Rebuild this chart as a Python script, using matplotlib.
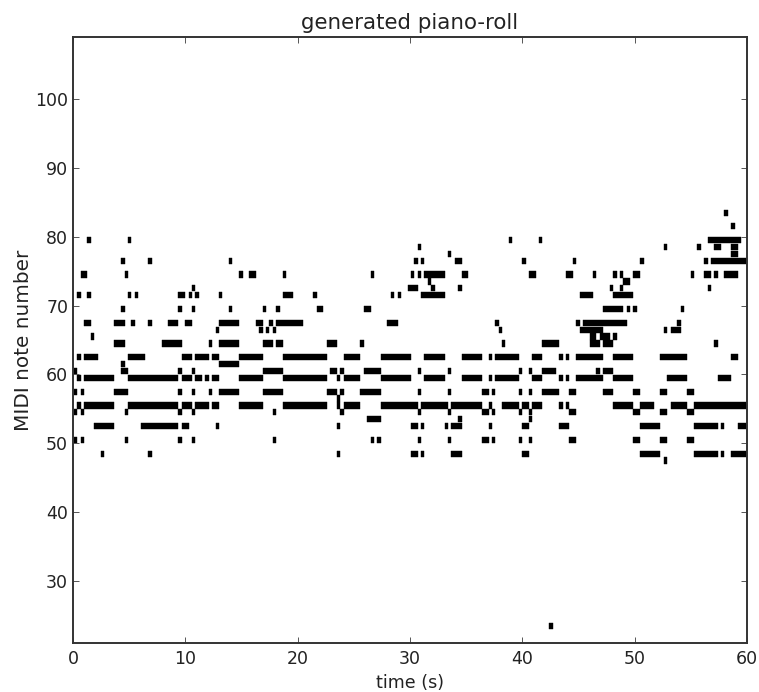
import matplotlib
matplotlib.use('Agg')
import matplotlib.pyplot as plt

# piano-roll frames, each note is (first frame, end frame)
frame_len = 0.3

note_23 = [(141, 142)]
note_47 = [(175, 176)]
note_48 = [(8, 9), (22, 23), (78, 79), (100, 102), (103, 104), (112, 115), (133, 135), (168, 174), (184, 191), (192, 193), (195, 200)]
note_50 = [(0, 1), (2, 3), (15, 16), (31, 32), (35, 36), (59, 60), (88, 89), (90, 91), (102, 103), (111, 112), (121, 123), (124, 125), (132, 133), (135, 136), (147, 149), (166, 168), (174, 176), (182, 184)]
note_52 = [(6, 12), (20, 31), (32, 34), (42, 43), (78, 79), (100, 102), (103, 104), (110, 111), (112, 115), (123, 124), (133, 135), (144, 147), (168, 174), (184, 191), (192, 193), (197, 200)]
note_53 = [(87, 91), (114, 115), (135, 136)]
note_54 = [(0, 1), (2, 3), (15, 16), (31, 32), (35, 36), (59, 60), (79, 80), (102, 103), (111, 112), (121, 123), (124, 125), (132, 133), (135, 136), (147, 149), (166, 168), (174, 176), (182, 184)]
note_55 = [(1, 2), (3, 12), (16, 31), (32, 35), (36, 40), (41, 43), (49, 56), (62, 75), (78, 79), (80, 85), (91, 102), (103, 111), (112, 121), (123, 124), (127, 132), (133, 135), (136, 139), (144, 145), (146, 147), (160, 166), (168, 172), (177, 182), (184, 200)]
note_56 = [(78, 79)]
note_57 = [(0, 1), (2, 3), (12, 16), (31, 32), (35, 36), (40, 41), (43, 49), (56, 62), (75, 78), (79, 80), (85, 91), (102, 103), (111, 112), (121, 123), (124, 125), (132, 133), (135, 136), (139, 144), (147, 149), (157, 160), (166, 168), (174, 176), (182, 184)]
note_59 = [(1, 2), (3, 12), (16, 31), (32, 35), (36, 38), (39, 40), (41, 43), (49, 56), (62, 75), (78, 79), (80, 85), (91, 100), (104, 110), (115, 121), (123, 124), (125, 132), (136, 139), (144, 145), (146, 147), (149, 157), (160, 166), (176, 182), (191, 195)]
note_60 = [(0, 1), (14, 16), (31, 32), (35, 36), (56, 62), (76, 78), (79, 80), (86, 91), (102, 103), (111, 112), (132, 133), (135, 136), (139, 143), (155, 156), (157, 160)]
note_61 = [(14, 15), (43, 49)]
note_62 = [(1, 2), (3, 7), (16, 21), (32, 35), (36, 40), (41, 43), (49, 56), (62, 75), (80, 85), (91, 100), (104, 110), (115, 121), (123, 124), (125, 132), (136, 139), (144, 145), (146, 147), (149, 157), (160, 166), (174, 182), (195, 197)]
note_64 = [(12, 15), (26, 32), (40, 41), (43, 49), (56, 59), (60, 62), (75, 78), (85, 86), (127, 128), (139, 144), (153, 156), (157, 160), (190, 191)]
note_65 = [(5, 6), (153, 155), (156, 159), (160, 161)]
note_66 = [(42, 43), (55, 56), (57, 58), (59, 60), (126, 127), (150, 157), (175, 176), (177, 180)]
note_67 = [(3, 5), (12, 15), (17, 18), (22, 23), (28, 31), (33, 35), (43, 49), (54, 56), (58, 59), (60, 68), (93, 96), (125, 126), (149, 150), (151, 164), (179, 180)]
note_69 = [(14, 15), (31, 32), (35, 36), (46, 47), (56, 57), (60, 61), (72, 74), (86, 88), (157, 163), (164, 165), (166, 167), (180, 181)]
note_71 = [(1, 2), (4, 5), (16, 17), (18, 19), (31, 33), (34, 35), (36, 37), (43, 44), (62, 65), (71, 72), (94, 95), (96, 97), (103, 110), (150, 154), (160, 166)]
note_72 = [(35, 36), (99, 102), (106, 107), (114, 115), (159, 160), (162, 163), (188, 189)]
note_73 = [(105, 106), (163, 165)]
note_74 = [(2, 4), (15, 16), (49, 50), (52, 54), (62, 63), (88, 89), (100, 101), (102, 103), (104, 110), (115, 117), (135, 137), (146, 148), (154, 155), (160, 161), (162, 163), (166, 168), (183, 184), (187, 189), (190, 191), (193, 197)]
note_76 = [(14, 15), (22, 23), (46, 47), (101, 102), (103, 104), (113, 115), (133, 134), (148, 149), (168, 169), (187, 188), (189, 200)]
note_77 = [(111, 112), (195, 197)]
note_78 = [(102, 103), (175, 176), (185, 186), (190, 192), (195, 197)]
note_79 = [(4, 5), (16, 17), (129, 130), (138, 139), (188, 198)]
note_81 = [(195, 196)]
note_83 = [(193, 194)]

pitches = [23, 47, 48, 50, 52, 53, 54, 55, 56, 57, 59, 60, 61, 62, 64, 65, 66, 67, 69, 71, 72, 73, 74, 76, 77, 78, 79, 81, 83]
rolls = [note_23, note_47, note_48, note_50, note_52, note_53, note_54, note_55, note_56, note_57, note_59, note_60, note_61, note_62, note_64, note_65, note_66, note_67, note_69, note_71, note_72, note_73, note_74, note_76, note_77, note_78, note_79, note_81, note_83]

x_ticks = [0, 10, 20, 30, 40, 50, 60]
y_ticks = [30, 40, 50, 60, 70, 80, 90, 100]

plt.rcParams['font.family'] = 'DejaVu Sans'
fig = plt.figure(figsize=(7.59, 6.92), dpi=100)
ax = fig.add_axes([73 / 759, 1 - 643 / 692, 674 / 759, 606 / 692])

for pitch, roll in zip(pitches, rolls):
    spans = [(a * frame_len + 0.09, (b - a) * frame_len) for a, b in roll]
    ax.broken_barh(spans, (pitch + 0.05, 0.9), facecolors='black', edgecolor='black', linewidth=0.3)

ax.set_xlim(0, 60)
ax.set_ylim(21, 109)
ax.set_xticks(x_ticks)
ax.set_yticks(y_ticks)
ax.tick_params(direction='in', top=True, right=True, length=4.5, width=0.7, color='#555555', labelsize=12.5, pad=3.5, labelcolor='#222222')
ax.tick_params(axis='x', pad=5)
for s in ax.spines.values():
    s.set_linewidth(1.4)
    s.set_color('#333333')

ax.set_title('generated piano-roll', fontsize=15.4, pad=6, color='#222222')
ax.set_xlabel('time (s)', fontsize=12.6, labelpad=4.5, color='#222222')
ax.set_ylabel('MIDI note number', fontsize=14.4, color='#222222')
ax.yaxis.set_label_coords(-40 / 674, 0.5)

fig.savefig('out.png', dpi=100)
